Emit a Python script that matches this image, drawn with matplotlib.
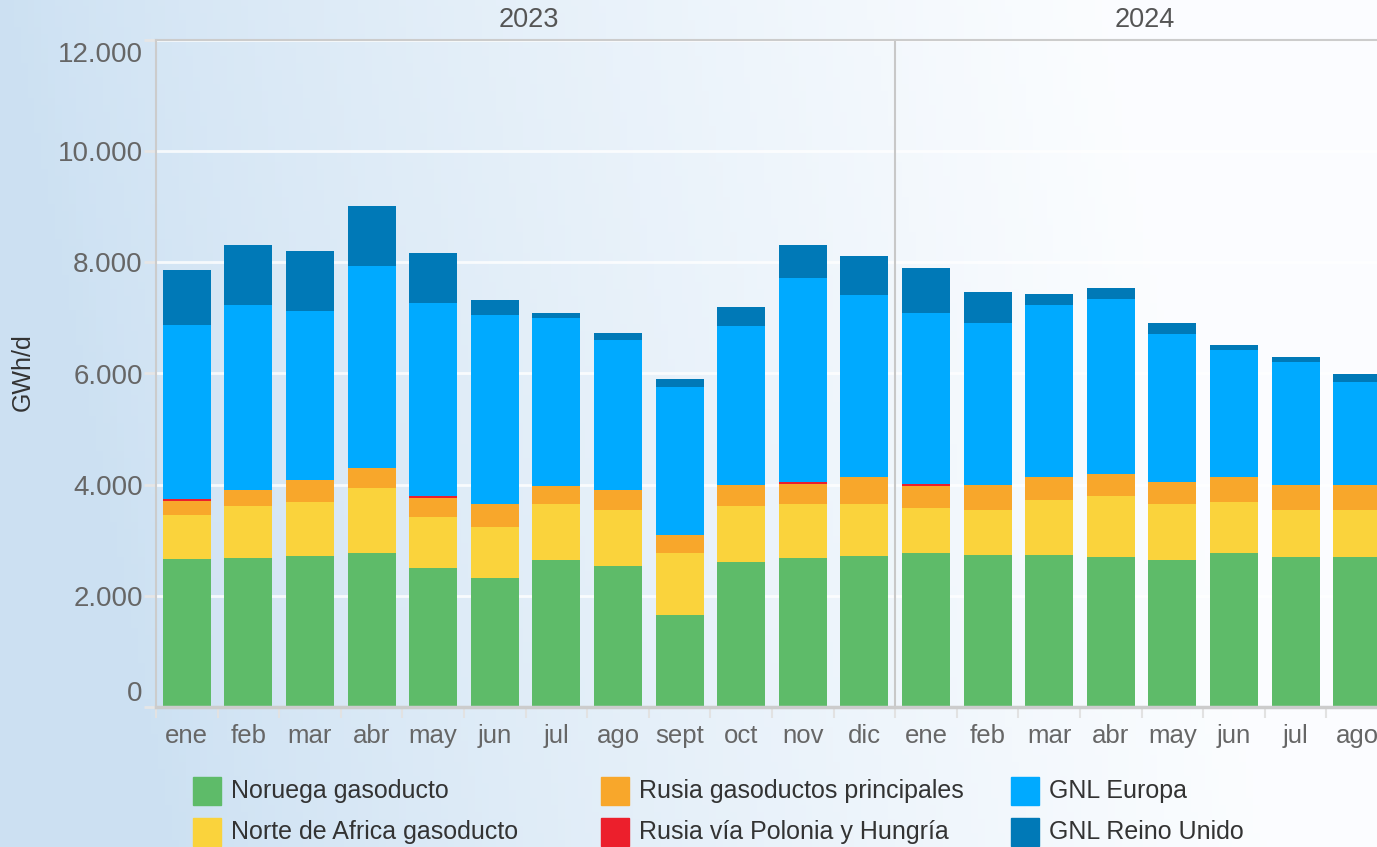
import numpy as np
import matplotlib
matplotlib.use("Agg")
import matplotlib.pyplot as plt
from matplotlib.patches import Rectangle
from matplotlib.transforms import ScaledTranslation

plt.rcParams["font.family"] = ["Liberation Sans", "DejaVu Sans"]

# --- data (GWh/d, monthly averages) ---
months = ["ene", "feb", "mar", "abr", "may", "jun", "jul", "ago", "sept", "oct", "nov", "dic",
          "ene", "feb", "mar", "abr", "may", "jun", "jul", "ago"]
years = ["2023", "2024"]

noruega = [2670, 2685, 2720, 2775, 2505, 2325, 2650, 2540, 1660, 2615, 2685, 2720,
           2775, 2740, 2740, 2705, 2650, 2775, 2705, 2705]
norte_africa = [790, 935, 975, 1170, 920, 920, 1010, 1010, 1115, 1005, 975, 940,
                810, 810, 990, 1095, 1010, 920, 845, 845]
rusia_principales = [250, 290, 395, 360, 340, 415, 320, 360, 325, 370, 360, 470,
                     395, 440, 400, 400, 395, 435, 440, 440]
rusia_polonia = [40, 0, 0, 0, 35, 0, 0, 0, 0, 0, 35, 0,
                 40, 0, 0, 0, 0, 0, 0, 0]
gnl_europa = [3130, 3315, 3030, 3625, 3460, 3385, 3010, 2685, 2650, 2860, 3660, 3275,
              3060, 2910, 3095, 3135, 2650, 2285, 2210, 1865]
gnl_reino_unido = [980, 1080, 1080, 1080, 905, 270, 90, 125, 160, 340, 590, 705,
                   815, 560, 200, 195, 195, 90, 90, 130]

series_names = ["Noruega gasoducto", "Norte de Africa gasoducto",
                "Rusia gasoductos principales", "Rusia vía Polonia y Hungría",
                "GNL Europa", "GNL Reino Unido"]
series_values = [noruega, norte_africa, rusia_principales, rusia_polonia,
                 gnl_europa, gnl_reino_unido]
colors = ["#5ebb69", "#fad33c", "#f8a72b", "#ec1f2c", "#00aaff", "#0079b7"]

W, H = 1377, 847
fig = plt.figure(figsize=(W / 100, H / 100), dpi=100)

# soft blue-to-white background
bg = fig.add_axes([0, 0, 1, 1], zorder=0)
gx = np.linspace(0, 1, 200)
gy = np.linspace(0, 1, 120)
X, Y = np.meshgrid(gx, gy)
t = np.clip(X * 1.25 - 0.15 * (1 - Y), 0, 1) ** 0.8
left = np.array([0.80, 0.88, 0.95])
right = np.array([0.985, 0.992, 1.0])
img = left[None, None, :] * (1 - t[..., None]) + right[None, None, :] * t[..., None]
bg.imshow(img, extent=[0, 1, 0, 1], aspect="auto", origin="lower")
bg.axis("off")

ax = fig.add_axes([156 / W, 1 - 707 / H, 1232 / W, 667 / H], zorder=1)
ax.patch.set_alpha(0)

x = np.arange(len(months))
bottom = np.zeros(len(months))
for name, vals, col in zip(series_names, series_values, colors):
    vals = np.array(vals, dtype=float)
    ax.bar(x, vals, 0.78, bottom=bottom, color=col, label=name, zorder=2)
    bottom += vals

ax.set_xlim(-0.5, len(months) - 0.5)
ax.set_ylim(0, 12000)

ax.set_axisbelow(True)
ax.yaxis.grid(True, color="white", alpha=0.8, lw=2)
ax.axvline(11.5, color="#c8c8c8", lw=1.5, zorder=1)

ax.set_xticks(x)
ax.set_xticklabels(months, fontsize=18.5, color="#666666")
ax.tick_params(axis="x", which="major", length=0, pad=12)
ax.set_xticks(np.arange(-0.5, len(months), 1), minor=True)
ax.tick_params(axis="x", which="minor", length=8, width=1.5, color="#e2e2e2")

yt = np.arange(0, 12001, 2000)
ax.set_yticks(yt)
ax.set_yticklabels([f"{v:,}".replace(",", ".") for v in yt], fontsize=20, color="#666666")
ax.tick_params(axis="y", length=9, width=2, color="#e6e6e6", pad=0.5)
labels = ax.get_yticklabels()
labels[0].set_va("bottom")
labels[-1].set_va("center")
labels[-1].set_transform(labels[-1].get_transform()
                         + ScaledTranslation(0, -0.15, fig.dpi_scale_trans))

for side in ["left", "top"]:
    ax.spines[side].set_color("#cccccc")
    ax.spines[side].set_linewidth(1.5)
ax.spines["bottom"].set_color("#cccccc")
ax.spines["bottom"].set_linewidth(2.5)
ax.spines["right"].set_visible(False)

# year headers
for i, yr in enumerate(years):
    ax.text(5.55 + 10 * i, 1.03, yr, transform=ax.get_xaxis_transform(),
            ha="center", va="center", fontsize=19.5, color="#555555")

fig.text(23 / W, 1 - 372 / H, "GWh/d", rotation=90, ha="center", va="center",
         fontsize=18, color="#333333")

# legend, 3 columns x 2 rows
col_x = [193, 601, 1011]
row_y = [791, 832]
for i, (name, col) in enumerate(zip(series_names, colors)):
    px = col_x[i // 2]
    py = row_y[i % 2]
    fig.patches.append(Rectangle((px / W, 1 - (py + 14) / H), 28 / W, 28 / H,
                                 transform=fig.transFigure, color=col, zorder=3))
    fig.text((px + 38) / W, 1 - py / H, name, ha="left", va="center",
             fontsize=18, color="#333333", zorder=3)

fig.savefig("out.png", dpi=100)
